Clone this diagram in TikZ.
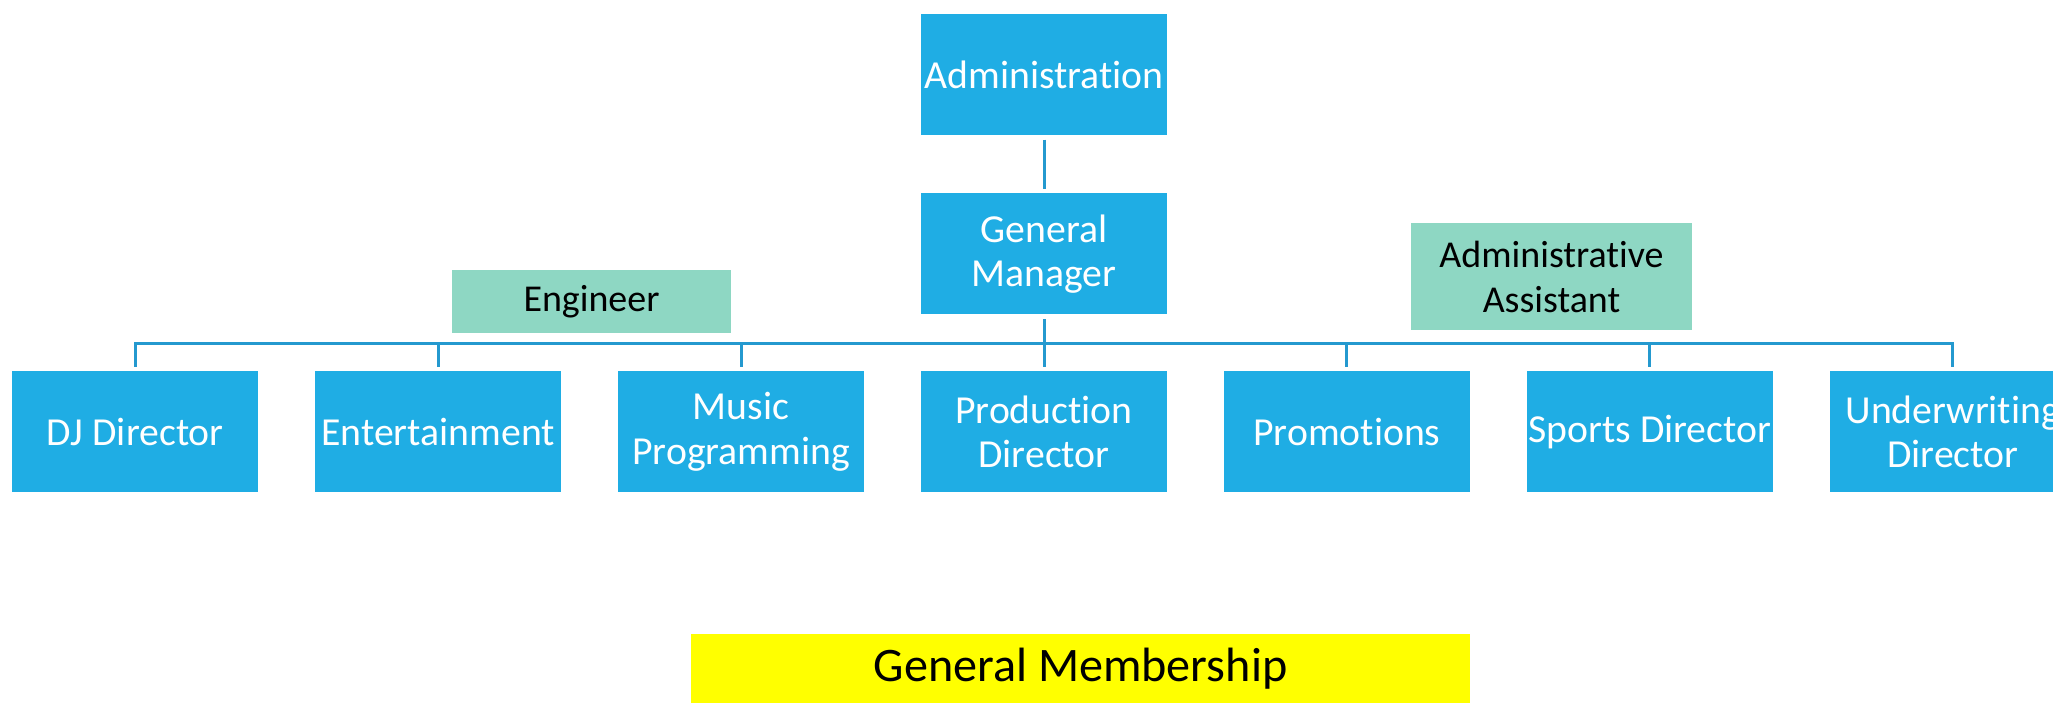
\documentclass[tikz,border=0pt]{standalone}
\usepackage{fontspec}
\setmainfont{Carlito}[Ligatures=NoCommon]
\usetikzlibrary{positioning}
\definecolor{mblue}{HTML}{1FADE4}
\definecolor{mteal}{HTML}{8ED7C3}
\definecolor{myellow}{HTML}{FFFF00}
\definecolor{mline}{HTML}{2499CF}
\tikzstyle{office} = [rectangle, minimum width=2.46cm, minimum height=1.21cm, inner sep=0pt, text=white, fill=mblue, font=\fontsize{11.3}{12.6}\selectfont]
\tikzstyle{aide} = [rectangle, inner sep=0pt, text=black, fill=mteal, font=\fontsize{10.8}{12.8}\selectfont]
\tikzstyle{membership} = [rectangle, minimum width=7.79cm, minimum height=0.69cm, inner sep=0pt, text=black, fill=myellow, font=\fontsize{13.7}{15}\selectfont]
\tikzstyle{link} = [line width=0.03cm, draw=mline, shorten <=0.04cm, shorten >=0.04cm]

\begin{document}
\begin{tikzpicture}[align=center, node distance=0.555cm]
  \useasboundingbox (0,0) rectangle (20.53,7.04);
  \node (admin) [office] at (10.44,6.295) {Administration};
  \node (gm) [office, below= 0.57cm of admin] {General\\Manager};
  \node (prod) [office, below= of gm] {Production\\Director};
  \node (music) [office, left= of prod] {Music\\Programming};
  \node (ent) [office, left= of music] {Entertainment};
  \node (dj) [office, left= of ent] {DJ Director};
  \node (promo) [office, right= of prod] {Promotions};
  \node (sports) [office, right= of promo] {Sports Director};
  \node (under) [office, right= of sports] {Underwriting\\Director};
  \node (eng) [aide, minimum width=2.79cm, minimum height=0.63cm] at (5.915,4.025) {Engineer};
  \node (assist) [aide, minimum width=2.81cm, minimum height=1.07cm] at (15.515,4.275) {Administrative\\Assistant};
  \node (members) [membership] at (10.805,0.355) {General Membership};
  \draw [link] (admin) -- (gm);
  \foreach \n in {dj,ent,music,prod,promo,sports,under}
    \draw [link] (gm.south) -- ++(0,-0.28) -| (\n.north);
\end{tikzpicture}
\end{document}
